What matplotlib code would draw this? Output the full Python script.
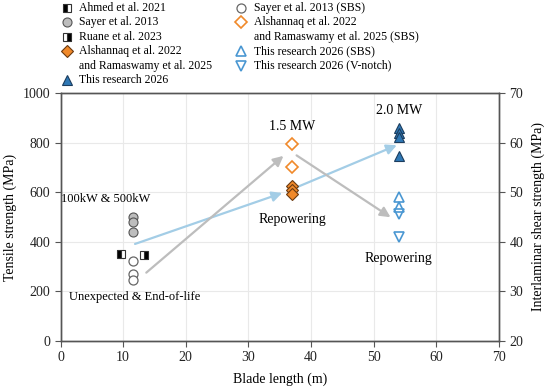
import matplotlib
matplotlib.use("Agg")
import matplotlib.pyplot as plt
from matplotlib.lines import Line2D

plt.rcParams['font.family'] = ['Liberation Serif', 'DejaVu Serif']
plt.rcParams['font.size'] = 10

# ---- data (tensile strength, left axis) ----
ahmed_x = [9.7]
ahmed_y = [352]
sayer_x = [11.6, 11.6, 11.6]
sayer_y = [498, 480, 441]
ruane_x = [13.4]
ruane_y = [346]
alsh_x = [37, 37, 37]
alsh_y = [626, 609, 594]
this_x = [54, 54, 54, 54]
this_y = [858, 839, 822, 747]

# ---- data (interlaminar shear strength, right axis) ----
sayer_sbs_x = [11.6, 11.6, 11.6]
sayer_sbs_y = [36.1, 33.5, 32.2]
alsh_sbs_x = [37, 37]
alsh_sbs_y = [59.8, 55.2]
this_sbs_x = [54, 54]
this_sbs_y = [49.0, 47.0]
this_vn_x = [54, 54]
this_vn_y = [45.7, 41.0]

x_ticks = [0, 10, 20, 30, 40, 50, 60, 70]
y_ticks = [0, 200, 400, 600, 800, 1000]
y2_ticks = [20, 30, 40, 50, 60, 70]

orange = '#F0892A'
blue = '#2F78B5'
lblue = '#4A97D2'
arrow_blue = '#A3CDE6'
arrow_gray = '#BDBDBD'
edge = '#333333'
spine_c = '#555555'

W, H = 550, 391
fig = plt.figure(figsize=(5.5, 3.91), dpi=100)
ax = fig.add_axes([0.110, 0.1287, 0.797, 0.6327])
ax2 = ax.twinx()

ax.set_xlim(0, 70)
ax.set_ylim(0, 1000)
ax2.set_ylim(20, 70)
ax.set_xticks(x_ticks)
ax.set_yticks(y_ticks)
ax2.set_yticks(y2_ticks)
ax.grid(True, color='#E9E9E9', linewidth=0.8)
ax.set_axisbelow(True)

for a in (ax, ax2):
    for s in a.spines.values():
        s.set_color(spine_c)
        s.set_linewidth(1.0)
    a.tick_params(colors='#222222', labelsize=10, direction='out', length=4, color=spine_c)

ax.set_xlabel('Blade length (m)', fontsize=10, labelpad=6)
ax.set_ylabel('Tensile strength (MPa)', fontsize=10, labelpad=4)
ax2.set_ylabel('Interlaminar shear strength (MPa)', fontsize=10, labelpad=6)

def arr(x0, y0, x1, y1, c):
    ax.annotate('', xy=(x1, y1), xytext=(x0, y0),
                arrowprops=dict(arrowstyle='-|>,head_length=0.6,head_width=0.3', color=c, lw=1.6,
                                shrinkA=0, shrinkB=0), zorder=2)

arr(11.9, 391, 35.4, 597, arrow_blue)
arr(13.7, 275, 35.6, 747, arrow_gray)
arr(37.7, 620, 53.7, 790, arrow_blue)
arr(37.7, 749, 52.7, 499, arrow_gray)

ms = 5.5
st_ahmed = dict(marker='s', ms=ms, mfc='black', mfcalt='white', fillstyle='left', mec=edge, mew=0.8)
st_sayer = dict(marker='o', ms=ms + 1, mfc='#BDBDBD', mec='#555555', mew=0.8)
st_ruane = dict(marker='s', ms=ms, mfc='black', mfcalt='white', fillstyle='right', mec=edge, mew=0.8)
st_alsh = dict(marker='D', ms=ms + 0.5, mfc=orange, mec='#6B3A10', mew=0.8)
st_this = dict(marker='^', ms=ms + 2, mfc=blue, mec='#1C3D5E', mew=0.8)
st_ssbs = dict(marker='o', ms=ms + 1, mfc='white', mec='#666666', mew=0.9)
st_asbs = dict(marker='D', ms=ms + 1, mfc='white', mec=orange, mew=1.2)
st_tsbs = dict(marker='^', ms=ms + 1, mfc='none', mec=lblue, mew=1.2)
st_tvn = dict(marker='v', ms=ms + 1, mfc='none', mec=lblue, mew=1.2)

ax.plot(ahmed_x, ahmed_y, ls='none', zorder=4, **st_ahmed)
ax.plot(sayer_x, sayer_y, ls='none', zorder=4, **st_sayer)
ax.plot(ruane_x, ruane_y, ls='none', zorder=4, **st_ruane)
ax.plot(alsh_x, alsh_y, ls='none', zorder=4, **st_alsh)
ax.plot(this_x, this_y, ls='none', zorder=4, **st_this)
ax2.plot(sayer_sbs_x, sayer_sbs_y, ls='none', zorder=4, **st_ssbs)
ax2.plot(alsh_sbs_x, alsh_sbs_y, ls='none', zorder=4, **st_asbs)
ax2.plot(this_sbs_x, this_sbs_y, ls='none', zorder=4, **st_tsbs)
ax2.plot(this_vn_x, this_vn_y, ls='none', zorder=4, **st_tvn)

# annotations
ax.text(7.2, 573, '100kW & 500kW', ha='center', va='center', fontsize=9)
ax.text(11.8, 176, 'Unexpected & End-of-life', ha='center', va='center', fontsize=9)
ax.text(37, 864, '1.5 MW', ha='center', va='center', fontsize=10)
ax.text(37.1, 490, 'Repowering', ha='center', va='center', fontsize=10)
ax.text(54, 932, '2.0 MW', ha='center', va='center', fontsize=10)
ax.text(54, 334, 'Repowering', ha='center', va='center', fontsize=10)

# legend (two columns above the axes)
rows = [8, 22, 37, 51, 65.5, 80]
col1 = [(st_ahmed, ['Ahmed et al. 2021'], 0),
        (st_sayer, ['Sayer et al. 2013'], 1),
        (st_ruane, ['Ruane et al. 2023'], 2),
        (st_alsh, ['Alshannaq et al. 2022', 'and Ramaswamy et al. 2025'], 3),
        (st_this, ['This research 2026'], 5)]
col2 = [(st_ssbs, ['Sayer et al. 2013 (SBS)'], 0),
        (st_asbs, ['Alshannaq et al. 2022', 'and Ramaswamy et al. 2025 (SBS)'], 1),
        (st_tsbs, ['This research 2026 (SBS)'], 3),
        (st_tvn, ['This research 2026 (V-notch)'], 4)]
for col, mx, tx in ((col1, 67, 79), (col2, 241, 254)):
    for st, lines, r in col:
        fig.add_artist(Line2D([mx / W], [1 - rows[r] / H], transform=fig.transFigure, ls='none', **st))
        for k, line in enumerate(lines):
            fig.text(tx / W, 1 - rows[r + k] / H, line, ha='left', va='center', fontsize=8.5)

fig.savefig('out.png', dpi=100)
